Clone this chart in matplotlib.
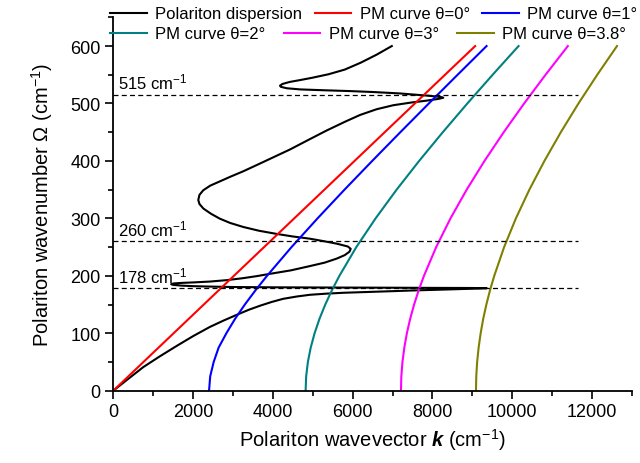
import matplotlib
matplotlib.use("Agg")
import matplotlib.pyplot as plt
from matplotlib.lines import Line2D
from matplotlib.ticker import MultipleLocator

plt.rcParams['font.family'] = ['Liberation Sans', 'DejaVu Sans']
plt.rcParams['mathtext.fontset'] = 'custom'
plt.rcParams['mathtext.rm'] = 'Liberation Sans'
plt.rcParams['mathtext.it'] = 'Liberation Sans:italic'
plt.rcParams['mathtext.bf'] = 'Liberation Sans:italic:bold'

# ---- data (k in cm^-1, Omega in cm^-1) ----
pol_k = [0, 400, 750, 1170, 1590, 2000, 2420, 2760, 3090, 3400, 3680, 3970, 4260,
         4600, 4930, 5350, 5770, 6430, 7000, 7500, 8000, 8500, 9000, 9360,
         9000, 8000, 7000, 5500, 4000, 3000, 2400, 2000, 1700, 1500, 1450, 1520,
         1750, 2000, 2420, 2850, 3260, 3600, 3930, 4450, 4930, 5300, 5600, 5800,
         5920, 5950, 5880, 5600, 5300, 4930, 4500, 4090, 3650, 3260, 2930, 2670,
         2450, 2260, 2160, 2130, 2160, 2256, 2430, 2674, 2950, 3258, 3600, 4000,
         4430, 4900, 5348, 5800, 6183, 6600, 7018, 7450, 7855, 8150, 8271, 8200,
         7900, 7185, 6500, 5932, 5300, 4687, 4350, 4200, 4178, 4240, 4420, 4700,
         5000, 5400, 5800, 6200, 6600, 6980]
pol_w = [0, 22, 41, 60, 78, 95, 111, 122, 132, 141, 148, 154.5, 160,
         164, 167, 169, 170.5, 172, 173.3, 174.5, 175.5, 176.5, 177.6, 178.5,
         178.8, 179, 179.3, 179.6, 180, 180.5, 181.3, 182, 183, 184.2, 185.5, 186.8,
         187.8, 188.5, 190, 192.5, 196, 199.5, 203.5, 209.5, 217, 223, 230, 236,
         242, 247, 251, 256, 260, 264.6, 268.5, 273, 278.5, 285, 292, 299.5,
         308, 317, 325, 332, 341, 349, 357, 364.5, 373, 382, 393, 406,
         420, 437, 453, 468, 480, 490, 497, 501.5, 505, 508, 510, 511.5,
         513.5, 517.5, 520, 521.6, 523, 524.5, 526.5, 529, 531, 534, 537.5, 541,
         545, 551, 559, 571, 585, 600]

pm0_k = [0, 9070]
pm0_w = [0, 600]

pm_w = [0, 25, 50, 75, 100, 125, 150, 175, 200, 250, 300, 350, 400, 450, 500, 550, 600]
pm1_k = [2400, 2429, 2516, 2640, 2834, 3051, 3297, 3566, 3853, 4467, 5119, 5795,
         6489, 7194, 7908, 8629, 9355]
pm2_k = [4820, 4834, 4877, 4948, 5045, 5167, 5313, 5480, 5667, 6091, 6574, 7101,
         7665, 8258, 8873, 9507, 10157]
pm3_k = [7210, 7219, 7247, 7294, 7358, 7440, 7539, 7655, 7786, 8092, 8451, 8857,
         9303, 9785, 10296, 10833, 11392]
pm38_k = [9090, 9097, 9119, 9156, 9207, 9271, 9350, 9442, 9548, 9795, 10090, 10428,
          10805, 11216, 11658, 12129, 12624]

ref_levels = [515, 260, 178]
ref_labels = ['515 cm$^{-1}$', '260 cm$^{-1}$', '178 cm$^{-1}$']
ref_kmax = 11650

legend_labels = ['Polariton dispersion', 'PM curve θ=0°', 'PM curve θ=1°',
                 'PM curve θ=2°', 'PM curve θ=3°', 'PM curve θ=3.8°']
colors = ['black', '#ff0000', '#0000ff', '#008080', '#ff00ff', '#808000']

# ---- figure ----
fig = plt.figure(figsize=(6.4, 4.64), dpi=100)
ax = fig.add_axes([0.1770, 0.1558, 0.8105, 0.8047])

lw = 1.5
ax.plot(pol_k, pol_w, color=colors[0], lw=lw, solid_joinstyle='round')
ax.plot(pm0_k, pm0_w, color=colors[1], lw=lw)
ax.plot(pm1_k, pm_w, color=colors[2], lw=lw)
ax.plot(pm2_k, pm_w, color=colors[3], lw=lw)
ax.plot(pm3_k, pm_w, color=colors[4], lw=lw)
ax.plot(pm38_k, pm_w, color=colors[5], lw=lw)

for lev, lab in zip(ref_levels, ref_labels):
    ax.plot([0, ref_kmax], [lev, lev], color='black', lw=0.9,
            linestyle=(0, (4, 2.6)))
    ax.text(120, lev + 11, lab, fontsize=12, ha='left', va='baseline')

ax.set_xlim(0, 13000)
ax.xaxis.set_major_locator(MultipleLocator(2000))
ax.xaxis.set_minor_locator(MultipleLocator(1000))
ax.yaxis.set_major_locator(MultipleLocator(100))
ax.yaxis.set_minor_locator(MultipleLocator(50))
ax.set_yticks([0, 100, 200, 300, 400, 500, 600])
ax.set_ylim(0, 650)

for s in ['top', 'right']:
    ax.spines[s].set_visible(False)
for s in ['left', 'bottom']:
    ax.spines[s].set_linewidth(1.3)

ax.tick_params(which='major', direction='out', length=6, width=1.2,
               labelsize=13, pad=3)
ax.tick_params(which='minor', direction='out', length=3.5, width=1.2)

ax.set_xlabel('Polariton wavevector $\\mathbf{k}$ (cm$^{-1}$)', fontsize=14.5,
              labelpad=4)
ax.set_ylabel('Polariton wavenumber Ω (cm$^{-1}$)', fontsize=14.5, labelpad=11)

# legends (two rows, flowing like the original)
h = [Line2D([], [], color=c, lw=lw) for c in colors]
fig.legend(h[:3], legend_labels[:3], loc='center left',
           bbox_to_anchor=(0.172, 0.9677), ncol=3, frameon=False,
           fontsize=12, handlelength=2.2, handletextpad=0.5,
           columnspacing=0.75, borderpad=0, borderaxespad=0)
fig.legend(h[3:], legend_labels[3:], loc='center left',
           bbox_to_anchor=(0.172, 0.9246), ncol=3, frameon=False,
           fontsize=12, handlelength=2.2, handletextpad=0.5,
           columnspacing=1.1, borderpad=0, borderaxespad=0)

fig.savefig('out.png', dpi=100)
